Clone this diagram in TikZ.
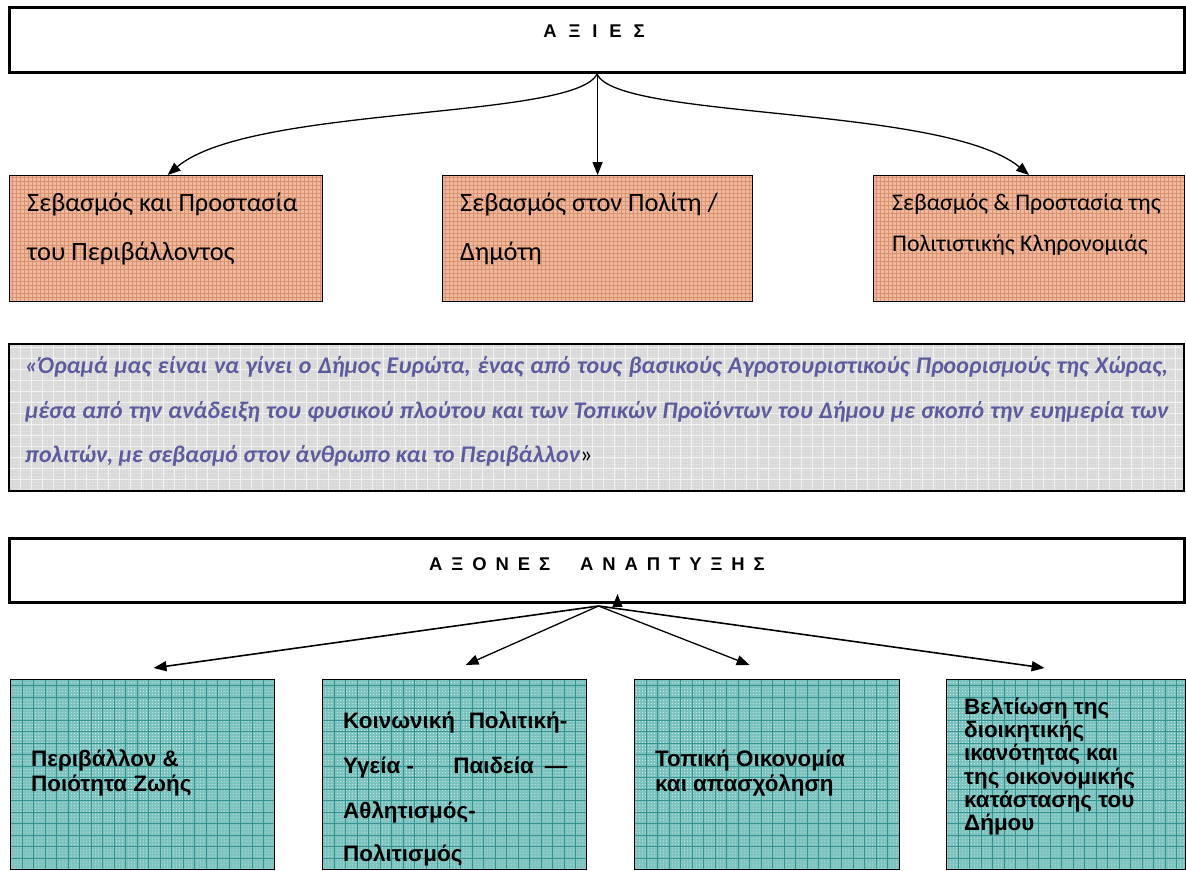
\documentclass[tikz,border=0pt]{standalone}
\usepackage{fontspec}
\setmainfont{Liberation Sans}
\newfontfamily\calfont{Carlito}
\usetikzlibrary{arrows.meta,patterns,calc}
\definecolor{pinkbase}{HTML}{EDBAA1}
\definecolor{pinkline}{HTML}{DA916C}
\definecolor{tealbase}{HTML}{7CC3BF}
\definecolor{tealline}{HTML}{349290}
\definecolor{greybase}{HTML}{D9D9D9}
\definecolor{greyline}{HTML}{F2F2F2}
\definecolor{vision}{HTML}{5B5B9E}
\newcommand\hgap{\hspace{12pt}}
\newcommand\lgap{\hspace{9pt}}
\tikzset{
  box/.style={draw=black, line width=1.2pt, inner sep=0pt, anchor=north west},
  hdr/.style={box, line width=3pt, fill=white},
  pinkbox/.style={box, fill=pinkbase, path picture={
    \foreach \i in {0,...,80}{\draw[pinkline,line width=1bp] ([xshift=\i*4bp+2.5bp]path picture bounding box.south west) -- ([xshift=\i*4bp+2.5bp]path picture bounding box.north west);}
    \foreach \j in {0,...,33}{\draw[pinkline,line width=1bp] ([yshift=\j*4bp+0.5bp]path picture bounding box.south west) -- ([yshift=\j*4bp+0.5bp]path picture bounding box.south east);}
  }},
  tealbox/.style={box, fill=tealbase, path picture={
    \fill[pattern=dots, pattern color=white!75!tealbase] (path picture bounding box.south west) rectangle (path picture bounding box.north east);
    \foreach \i in {0,...,24}{\draw[tealline,line width=1.1bp] ([xshift=\i*11.5bp]path picture bounding box.south west) -- ([xshift=\i*11.5bp]path picture bounding box.north west);}
    \foreach \j in {0,...,17}{\draw[tealline,line width=1.1bp] ([yshift=\j*11.5bp]path picture bounding box.south west) -- ([yshift=\j*11.5bp]path picture bounding box.south east);}
  }},
  greybox/.style={box, line width=2pt, fill=greybase, path picture={
    \fill[pattern=dots, pattern color=greyline] (path picture bounding box.south west) rectangle (path picture bounding box.north east);
    \foreach \i in {0,...,108}{\draw[greyline,line width=1bp] ([xshift=\i*11bp+0.5bp]path picture bounding box.south west) -- ([xshift=\i*11bp+0.5bp]path picture bounding box.north west);}
    \foreach \j in {0,...,14}{\draw[greyline,line width=1bp] ([yshift=\j*11bp+0.5bp]path picture bounding box.south west) -- ([yshift=\j*11bp+0.5bp]path picture bounding box.south east);}
  }},
  txt/.style={anchor=base west, inner sep=0pt},
  hdrtxt/.style={anchor=center, inner sep=0pt, font=\fontsize{18.5}{21}\selectfont\bfseries},
  pinktxt/.style={txt, font=\calfont\fontsize{26.5}{30}\selectfont},
  pinktxts/.style={txt, font=\calfont\fontsize{24}{28}\selectfont},
  vistxt/.style={txt, text=vision, font=\calfont\fontsize{24}{28}\selectfont\bfseries\itshape},
  tealtxt/.style={txt, font=\fontsize{22.5}{26}\selectfont\bfseries},
  arr/.style={line width=1.3pt, -{Triangle[length=13pt,width=10pt]}},
}
\begin{document}
\begin{tikzpicture}[x=1bp,y=-1bp]
\useasboundingbox[fill=white] (0,0) rectangle (1186,871);
% top header
\node[hdr, minimum width=1175bp, minimum height=65bp] (axies) at (8,6) {};
\node[hdrtxt] (axiestxt) at (594,31) {Α\hgap Ξ\hgap Ι\hgap Ε\hgap Σ};
% values
\node[pinkbox, minimum width=313bp, minimum height=126bp] (s1) at (9,175) {};
\node[pinkbox, minimum width=310bp, minimum height=126bp] (s2) at (442,175) {};
\node[pinkbox, minimum width=311bp, minimum height=126bp] (s3) at (873,175) {};
\node[pinktxt] (s1a) at (27,211) {Σεβασμός και Προστασία};
\node[pinktxt] (s1b) at (27,260) {του Περιβάλλοντος};
\node[pinktxt] (s2a) at (460,211) {Σεβασμός στον Πολίτη /};
\node[pinktxt] (s2b) at (460,260) {Δημότη};
\node[pinktxts] (s3a) at (892,210) {Σεβασμός \& Προστασία της};
\node[pinktxts] (s3b) at (892,251) {Πολιτιστικής Κληρονομιάς};
\draw[arr] (axies.south) .. controls (575,120) and (250,105) .. ($(s1.north)+(1.5,0)$);
\draw[arr] (axies.south -| s2.north) -- (s2.north);
\draw[arr] (axies.south) .. controls (617,120) and (944,105) .. (s3.north);
% vision
\node[greybox, minimum width=1175bp, minimum height=147bp] (vision) at (8,343) {};
\node[vistxt] (v1) at (25,373) {\hbox to 1143bp{«Όραμά μας είναι να γίνει ο Δήμος Ευρώτα, ένας από τους βασικούς Αγροτουριστικούς Προορισμούς της Χώρας,}};
\node[vistxt] (v2) at (25,418) {\hbox to 1143bp{μέσα από την ανάδειξη του φυσικού πλούτου και των Τοπικών Προϊόντων του Δήμου με σκοπό την ευημερία των}};
\node[vistxt] (v3) at (25,462) {πολιτών, με σεβασμό στον άνθρωπο και το Περιβάλλον{\color{black}\upshape\mdseries»}};
% axes header
\node[hdr, minimum width=1175bp, minimum height=64bp] (ax) at (8,537) {};
\node[hdrtxt] (axtxt) at (597,564) {Α\lgap Ξ\lgap Ο\lgap Ν\lgap Ε\lgap Σ\hspace{30pt}Α\lgap Ν\lgap Α\lgap Π\lgap Τ\lgap Υ\lgap Ξ\lgap Η\lgap Σ};
% teal boxes
\node[tealbox, minimum width=264bp, minimum height=190bp] (t1) at (10,679) {};
\node[tealbox, minimum width=264bp, minimum height=190bp] (t2) at (322,679) {};
\node[tealbox, minimum width=265bp, minimum height=190bp] (t3) at (634,679) {};
\node[tealbox, minimum width=239bp, minimum height=190bp] (t4) at (946,679) {};
\node[tealtxt] (t1a) at (31,766) {Περιβάλλον \&};
\node[tealtxt] (t1b) at (31,791) {Ποιότητα Ζωής};
\node[tealtxt] (t2a) at (343,728) {\hbox to 224bp{Κοινωνική Πολιτική-}};
\node[tealtxt] (t2b) at (343,773) {\hbox to 224bp{Υγεία -\hfil Παιδεία\hspace{11pt}—}};
\node[tealtxt] (t2c) at (343,818) {Αθλητισμός-};
\node[tealtxt] (t2d) at (343,861) {Πολιτισμός};
\node[tealtxt] (t3a) at (655,766) {Τοπική Οικονομία};
\node[tealtxt] (t3b) at (655,791) {και απασχόληση};
\node[tealtxt] (t4a) at (964,714) {Βελτίωση της};
\node[tealtxt] (t4b) at (964,737) {διοικητικής};
\node[tealtxt] (t4c) at (964,760) {ικανότητας και};
\node[tealtxt] (t4d) at (964,784) {της οικονομικής};
\node[tealtxt] (t4e) at (964,807) {κατάστασης του};
\node[tealtxt] (t4f) at (964,830) {Δήμου};
\draw[arr, line width=1.6pt] ($(ax.south)+(1.5,2)$) -- ($(t1.north)+(11,-11)$);
\draw[arr] ($(ax.south)+(1.5,2)$) -- ($(t2.north)+(11,-14)$);
\draw[arr] ($(ax.south)+(1.5,2)$) -- ($(t3.north)+(-17.5,-14)$);
\draw[arr, line width=1.6pt] ($(ax.south)+(1.5,2)$) -- ($(t4.north)+(-21.5,-11)$);
\coordinate (upbase) at ($(ax.south)+(20.5,2)$);
\draw[arr] (upbase) -- ($(ax.south)+(20.5,-10)$);
\end{tikzpicture}
\end{document}
